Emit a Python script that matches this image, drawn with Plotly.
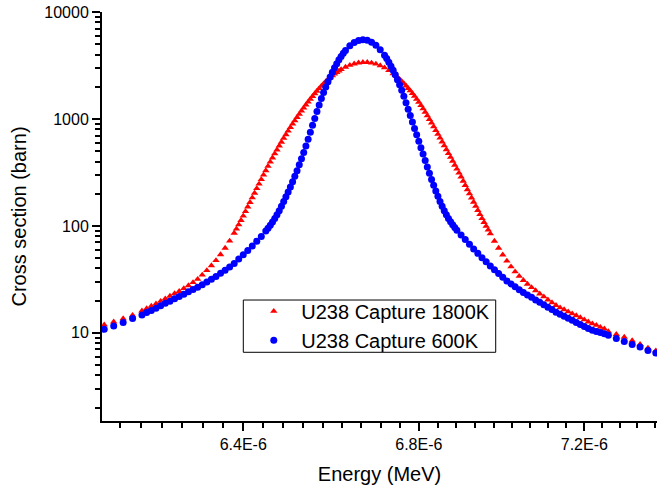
import math
import plotly.graph_objects as go

# ---------------- data ----------------
energy_1800 = [
    6.10e-6, 6.12e-6, 6.14e-6, 6.16e-6, 6.18e-6, 6.19e-6, 6.20e-6, 6.21e-6, 6.22e-6, 6.23e-6,
    6.24e-6, 6.25e-6, 6.26e-6, 6.27e-6, 6.28e-6, 6.29e-6, 6.30e-6, 6.31e-6, 6.32e-6, 6.33e-6,
    6.34e-6, 6.35e-6, 6.36e-6, 6.37e-6, 6.38e-6, 6.385e-6, 6.39e-6, 6.395e-6, 6.40e-6, 6.405e-6,
    6.41e-6, 6.415e-6, 6.42e-6, 6.425e-6, 6.43e-6, 6.435e-6, 6.44e-6, 6.445e-6, 6.45e-6, 6.455e-6,
    6.46e-6, 6.465e-6, 6.47e-6, 6.475e-6, 6.48e-6, 6.485e-6, 6.49e-6, 6.495e-6, 6.50e-6, 6.505e-6,
    6.51e-6, 6.515e-6, 6.52e-6, 6.525e-6, 6.53e-6, 6.535e-6, 6.54e-6, 6.545e-6, 6.55e-6, 6.555e-6,
    6.56e-6, 6.565e-6, 6.57e-6, 6.575e-6, 6.58e-6, 6.585e-6, 6.59e-6, 6.595e-6, 6.60e-6, 6.605e-6,
    6.61e-6, 6.615e-6, 6.62e-6, 6.63e-6, 6.64e-6, 6.65e-6, 6.66e-6, 6.67e-6, 6.68e-6, 6.69e-6,
    6.70e-6, 6.71e-6, 6.72e-6, 6.73e-6, 6.74e-6, 6.745e-6, 6.75e-6, 6.755e-6, 6.76e-6, 6.765e-6,
    6.77e-6, 6.775e-6, 6.78e-6, 6.785e-6, 6.79e-6, 6.795e-6, 6.80e-6, 6.805e-6, 6.81e-6, 6.815e-6,
    6.82e-6, 6.825e-6, 6.83e-6, 6.835e-6, 6.84e-6, 6.845e-6, 6.85e-6, 6.855e-6, 6.86e-6, 6.865e-6,
    6.87e-6, 6.875e-6, 6.88e-6, 6.885e-6, 6.89e-6, 6.895e-6, 6.90e-6, 6.905e-6, 6.91e-6, 6.915e-6,
    6.92e-6, 6.925e-6, 6.93e-6, 6.935e-6, 6.94e-6, 6.945e-6, 6.95e-6, 6.955e-6, 6.96e-6, 6.965e-6,
    6.97e-6, 6.98e-6, 6.99e-6, 7.00e-6, 7.01e-6, 7.02e-6, 7.03e-6, 7.04e-6, 7.05e-6, 7.06e-6,
    7.07e-6, 7.08e-6, 7.09e-6, 7.10e-6, 7.11e-6, 7.12e-6, 7.13e-6, 7.14e-6, 7.15e-6, 7.16e-6,
    7.17e-6, 7.18e-6, 7.19e-6, 7.20e-6, 7.21e-6, 7.22e-6, 7.23e-6, 7.24e-6, 7.25e-6, 7.26e-6,
    7.28e-6, 7.30e-6, 7.32e-6, 7.34e-6, 7.36e-6, 7.38e-6,
]
xs_1800 = [
    11.9, 12.7, 13.6, 14.65, 16.1, 16.9, 17.8, 18.7, 19.8, 20.9,
    22.1, 23.3, 24.5, 26.0, 27.7, 29.6, 31.8, 34.8, 38.4, 42.6,
    47.6, 54.0, 62.1, 72.4, 85.7, 93.8, 102.6, 112.7, 123.9, 136.6,
    150.7, 166.3, 183.7, 202.8, 223.9, 246.9, 272.3, 299.6, 329.6, 361.4,
    396.3, 433.0, 473.2, 515.2, 561.0, 608.8, 660.7, 714.5, 772.7, 832.8,
    897.5, 963.8, 1035, 1109, 1189, 1269, 1355, 1442, 1535, 1627,
    1726, 1824, 1928, 2028, 2133, 2234, 2339, 2438, 2541, 2634,
    2729, 2815, 2904, 3055, 3184, 3281, 3350, 3381, 3381, 3342,
    3266, 3155, 3013, 2844, 2655, 2553, 2455, 2350, 2249, 2143,
    2042, 1936, 1837, 1732, 1633, 1531, 1435, 1338, 1247, 1157,
    1074, 993, 918, 847, 782, 720, 664, 611, 562, 518,
    476, 439, 404, 371, 341, 313, 288, 263, 240, 219,
    200, 183, 167, 153, 139.8, 128.2, 117.6, 108.1, 99.4, 91.6,
    84.5, 72.2, 62.1, 53.7, 47.0, 41.6, 37.3, 33.9, 31.0, 28.6,
    26.6, 24.9, 23.2, 21.8, 20.4, 19.2, 18.1, 17.2, 16.5, 15.8,
    15.1, 14.5, 13.9, 13.3, 12.7, 12.2, 11.8, 11.3, 10.9, 10.3,
    9.7, 9.15, 8.47, 7.82, 7.24, 6.81,
]

energy_600 = [
    6.10e-6, 6.12e-6, 6.14e-6, 6.16e-6, 6.18e-6, 6.19e-6, 6.20e-6, 6.21e-6, 6.22e-6, 6.23e-6,
    6.24e-6, 6.25e-6, 6.26e-6, 6.27e-6, 6.28e-6, 6.29e-6, 6.30e-6, 6.31e-6, 6.32e-6, 6.33e-6,
    6.34e-6, 6.35e-6, 6.36e-6, 6.37e-6, 6.38e-6, 6.39e-6, 6.40e-6, 6.41e-6, 6.42e-6, 6.43e-6,
    6.44e-6, 6.45e-6, 6.455e-6, 6.46e-6, 6.465e-6, 6.47e-6, 6.475e-6, 6.48e-6, 6.485e-6, 6.49e-6,
    6.495e-6, 6.50e-6, 6.505e-6, 6.51e-6, 6.515e-6, 6.52e-6, 6.525e-6, 6.53e-6, 6.535e-6, 6.54e-6,
    6.545e-6, 6.55e-6, 6.555e-6, 6.56e-6, 6.565e-6, 6.57e-6, 6.575e-6, 6.58e-6, 6.585e-6, 6.59e-6,
    6.595e-6, 6.60e-6, 6.605e-6, 6.61e-6, 6.615e-6, 6.62e-6, 6.625e-6, 6.63e-6, 6.64e-6, 6.65e-6,
    6.66e-6, 6.67e-6, 6.68e-6, 6.69e-6, 6.70e-6, 6.71e-6, 6.72e-6, 6.725e-6, 6.73e-6, 6.735e-6,
    6.74e-6, 6.745e-6, 6.75e-6, 6.755e-6, 6.76e-6, 6.765e-6, 6.77e-6, 6.775e-6, 6.78e-6, 6.785e-6,
    6.79e-6, 6.795e-6, 6.80e-6, 6.805e-6, 6.81e-6, 6.815e-6, 6.82e-6, 6.825e-6, 6.83e-6, 6.835e-6,
    6.84e-6, 6.845e-6, 6.85e-6, 6.855e-6, 6.86e-6, 6.865e-6, 6.87e-6, 6.875e-6, 6.88e-6, 6.885e-6,
    6.89e-6, 6.90e-6, 6.91e-6, 6.92e-6, 6.93e-6, 6.94e-6, 6.95e-6, 6.96e-6, 6.97e-6, 6.98e-6,
    6.99e-6, 7.00e-6, 7.01e-6, 7.02e-6, 7.03e-6, 7.04e-6, 7.05e-6, 7.06e-6, 7.07e-6, 7.08e-6,
    7.09e-6, 7.10e-6, 7.11e-6, 7.12e-6, 7.13e-6, 7.14e-6, 7.15e-6, 7.16e-6, 7.17e-6, 7.18e-6,
    7.19e-6, 7.20e-6, 7.21e-6, 7.22e-6, 7.23e-6, 7.24e-6, 7.25e-6, 7.26e-6, 7.28e-6, 7.30e-6,
    7.32e-6, 7.34e-6, 7.36e-6, 7.38e-6,
]
xs_600 = [
    10.8, 11.6, 12.5, 13.6, 14.7, 15.5, 16.2, 17.0, 17.9, 18.9,
    19.8, 20.8, 21.9, 23.0, 24.2, 25.4, 26.7, 28.2, 29.9, 31.7,
    33.7, 36.0, 38.6, 41.4, 44.5, 49.0, 53.7, 58.9, 64.9, 71.9,
    79.7, 89.8, 95.3, 101.7, 109.0, 117.3, 127.2, 138.8, 152.5, 168.8,
    187.2, 208.1, 231.4, 258.4, 290.6, 328.3, 372.6, 425.0, 486.7, 560.1,
    647.6, 750.5, 871.7, 1012, 1173, 1353, 1554, 1764, 1988, 2230,
    2470, 2734, 3012, 3291, 3573, 3844, 4120, 4377, 4823, 5177,
    5406, 5489, 5430, 5212, 4875, 4443, 3937, 3666, 3392, 3118,
    2848, 2585, 2331, 2087, 1851, 1628, 1418, 1235, 1075, 936.6,
    815.7, 710.5, 618.8, 539.0, 469.4, 408.9, 356.1, 310.1, 272.0, 240.3,
    212.6, 189.0, 169.2, 152.6, 138.8, 127.2, 117.3, 109.3, 102.4, 96.5,
    91.3, 82.3, 74.6, 67.3, 60.9, 55.4, 50.5, 46.2, 42.2, 38.9,
    35.9, 33.1, 30.6, 28.7, 27.0, 25.3, 23.9, 22.6, 21.5, 20.3,
    19.3, 18.3, 17.4, 16.5, 15.6, 14.9, 14.3, 13.7, 13.1, 12.5,
    12.0, 11.5, 11.0, 10.6, 10.3, 10.1, 9.8, 9.5, 8.86, 8.32,
    7.77, 7.36, 6.84, 6.47,
]

series_names = ["U238 Capture 1800K", "U238 Capture 600K"]

x_tick_vals = [6.4e-6, 6.8e-6, 7.2e-6]
x_tick_text = ["6.4E-6", "6.8E-6", "7.2E-6"]
y_tick_vals = [10, 100, 1000, 10000]
y_tick_text = ["10", "100", "1000", "10000"]

# minor tick positions (axis decoration)
x_minor = [round(6.4e-6 + k * 0.4e-6 / 9, 12) for k in range(-6, 23) if k % 9 != 0]
y_minor = [m * 10 ** p for p in range(0, 4) for m in range(2, 10)]

FONT = "Liberation Sans, Arial, Helvetica, sans-serif"

fig = go.Figure()
fig.add_trace(go.Scatter(
    x=energy_1800, y=xs_1800, mode="markers", name=series_names[0],
    marker=dict(symbol="triangle-up", size=6.5, color="#FF0000", line=dict(width=0)),
))
fig.add_trace(go.Scatter(
    x=energy_600, y=xs_600, mode="markers", name=series_names[1],
    marker=dict(symbol="circle", size=7, color="#0000FF", line=dict(width=0)),
))

fig.update_layout(
    width=663, height=485,
    margin=dict(l=102, r=6, t=12, b=64, pad=0),
    paper_bgcolor="white", plot_bgcolor="white",
    font=dict(family=FONT, size=16, color="black"),
    showlegend=True,
    legend=dict(
        x=0.2600, y=0.3161, xanchor="left", yanchor="top",
        borderwidth=0, bgcolor="rgba(0,0,0,0)",
        font=dict(family=FONT, size=20, color="black"),
        itemwidth=45, tracegroupgap=0,
    ),
    shapes=[dict(
        type="rect", xref="paper", yref="paper",
        x0=0.2546, x1=0.7094, y0=0.1680, y1=0.2958,
        line=dict(color="black", width=1), fillcolor="white", layer="above",
    )],
)

fig.update_xaxes(
    type="log",
    range=[math.log10(6.0953e-6), math.log10(7.383e-6)],
    tickmode="array", tickvals=x_tick_vals, ticktext=x_tick_text,
    ticks="outside", ticklen=8, tickwidth=1.5, tickcolor="black",
    tickfont=dict(family=FONT, size=16, color="black"),
    showline=True, linecolor="black", linewidth=2,
    showgrid=False, zeroline=False, mirror=False,
    minor=dict(tickmode="array", tickvals=x_minor, ticks="outside", ticklen=5,
               tickwidth=1.5, tickcolor="black", showgrid=False),
    title=dict(text="Energy (MeV)", font=dict(family=FONT, size=20, color="black"), standoff=17),
    automargin=False,
)
fig.update_yaxes(
    type="log",
    range=[math.log10(1.5), 4.0],
    tickmode="array", tickvals=y_tick_vals, ticktext=y_tick_text,
    ticks="outside", ticklen=8, tickwidth=1.5, tickcolor="black",
    tickfont=dict(family=FONT, size=16, color="black"),
    showline=True, linecolor="black", linewidth=2,
    showgrid=False, zeroline=False, mirror=False,
    minor=dict(tickmode="array", tickvals=y_minor, ticks="outside", ticklen=5,
               tickwidth=1.5, tickcolor="black", showgrid=False),
    title=dict(text="Cross section (barn)", font=dict(family=FONT, size=20, color="black"), standoff=12),
    automargin=False,
)

fig.write_html(
    "out.html",
    config={"displayModeBar": False},
    post_script="document.body.style.margin='0';document.body.style.padding='0';",
)
